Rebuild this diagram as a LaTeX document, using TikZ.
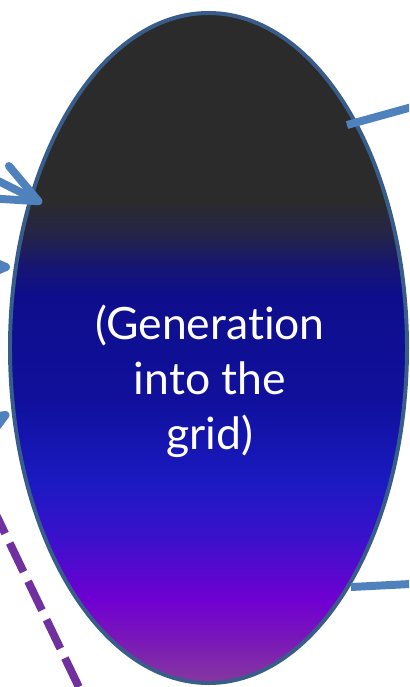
\documentclass[tikz,border=0pt]{standalone}
\usepackage{fontspec}
\setmainfont{Lato}[Ligatures={NoCommon}]
\usepackage{tikz}
\usetikzlibrary{arrows.meta,shapes.geometric,positioning}
\definecolor{gnblue}{RGB}{79,129,189}
\definecolor{gnline}{RGB}{56,93,138}
\definecolor{gnpurple}{RGB}{112,48,160}
\definecolor{gnA}{HTML}{2B2B2B}
\definecolor{gnB}{HTML}{24244A}
\definecolor{gnC}{HTML}{161670}
\definecolor{gnD}{HTML}{0E0E8C}
\definecolor{gnE}{HTML}{10109C}
\definecolor{gnF}{HTML}{1A1AC2}
\definecolor{gnG}{HTML}{3C10CC}
\definecolor{gnH}{HTML}{7000D2}
\definecolor{gnI}{HTML}{7A18B8}
\definecolor{gnJ}{HTML}{86389E}
\pgfdeclareverticalshading{genfill}{100bp}{color(0bp)=(gnJ); color(25bp)=(gnJ);
  color(28.2bp)=(gnI); color(31.2bp)=(gnH); color(35.7bp)=(gnG); color(40.1bp)=(gnF);
  color(46.1bp)=(gnE); color(54bp)=(gnD); color(56.2bp)=(gnC); color(58.4bp)=(gnB);
  color(61bp)=(gnA); color(75bp)=(gnA); color(100bp)=(gnA)}
\tikzstyle{link} = [line width=6.8pt,color=gnblue]
\tikzstyle{inlink} = [link,-{Straight Barb[length=36pt,width=31pt,round]}]

\begin{document}
\begin{tikzpicture}[x=0.03cm, y=-0.03cm]
\useasboundingbox (0,0) rectangle (409,687);
\clip (0,0) rectangle (409,687);

% Ellipse
\node[ellipse, draw=gnline, line width=3.4pt, shading=genfill, inner sep=0pt,
      minimum width=11.91cm, minimum height=20.1cm] (gen) at (208.5,348) {};
\node[text=white, align=center, font=\fontsize{38}{47}\selectfont] (gentext) at (210,381)
  {(Generation\\into the\\grid)};

% Incoming arrows
\coordinate (in1) at (-83,140);
\coordinate (tip1) at (42,203);
\coordinate (in2) at (-130,267);
\coordinate (tip2) at (10,267);
\coordinate (in3) at (-112,483);
\coordinate (tip3) at (9,413);
\draw[inlink] (in1) -- (tip1);
\draw[inlink] (in2) -- (tip2);
\draw[inlink] (in3) -- (tip3);

% Outgoing lines
\coordinate (out1) at (347,125);
\coordinate (far1) at (470,91);
\coordinate (out2) at (351,587);
\coordinate (far2) at (470,581);
\draw[link] (out1) -- (far1);
\draw[link] (out2) -- (far2);

% Dashed link
\coordinate (d1) at (-8.75,504.7);
\coordinate (d2) at (100,731);
\draw[gnpurple, line width=6.8pt, dash pattern=on 27.3pt off 9pt] (d1) -- (d2);
\end{tikzpicture}
\end{document}
